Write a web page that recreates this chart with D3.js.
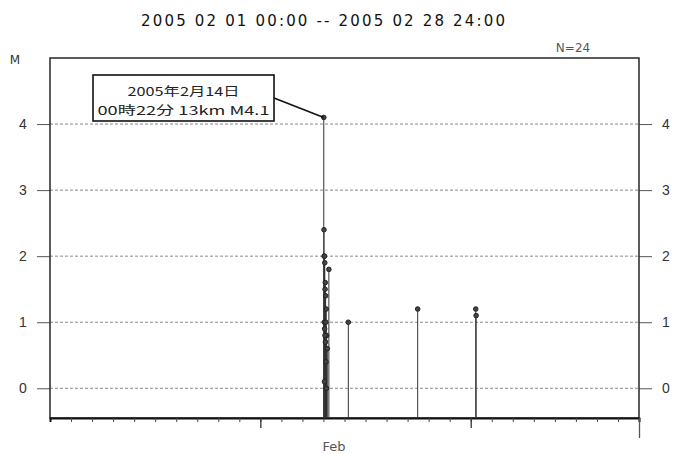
<!DOCTYPE html>
<html>
<head>
<meta charset="utf-8">
<script src="https://cdn.jsdelivr.net/npm/d3@7"></script>
<style>
  body { margin: 0; background: #fff; }
  svg { display: block; font-family: "DejaVu Sans", sans-serif; }
  .grid line { stroke: #888; stroke-dasharray: 3,2; stroke-width: 1; }
  .stem { stroke: #333; stroke-width: 1; }
  .dot { fill: #444; stroke: #222; stroke-width: 1; }
  .ylab { font-size: 14px; fill: #333; }
</style>
</head>
<body>
<svg id="chart"></svg>
<script>
// event times (UTC-like, no tz) and magnitudes, Feb 2005
let quakeTimes = [
  "2005-02-14T00:22", "2005-02-14T00:35", "2005-02-14T00:48", "2005-02-14T01:10",
  "2005-02-14T01:30", "2005-02-14T06:10", "2005-02-14T02:05", "2005-02-14T01:50",
  "2005-02-14T02:30", "2005-02-14T03:10", "2005-02-14T00:58", "2005-02-14T02:40",
  "2005-02-14T01:20", "2005-02-14T03:40", "2005-02-14T01:40", "2005-02-14T02:15",
  "2005-02-14T04:20", "2005-02-14T02:55", "2005-02-14T01:05", "2005-02-14T03:25",
  "2005-02-15T04:20", "2005-02-18T11:30", "2005-02-21T05:45", "2005-02-21T06:10"
]
let quakeMags = [
  4.1, 2.4, 2.0, 2.0,
  1.9, 1.8, 1.6, 1.5,
  1.4, 1.2, 1.0, 1.0,
  0.9, 0.8, 0.8, 0.7,
  0.6, 0.4, 0.1, 0.0,
  1.0, 1.2, 1.2, 1.1
]
let magTicks = [0, 1, 2, 3, 4]
let majorDays = ["2005-02-11", "2005-02-21"]
let monthLabel = "Feb"
let titleText = "2005 02 01 00:00 -- 2005 02 28 24:00"
let countText = "N=24"
let noteLines = ["2005年2月14日", "00時22分 13km  M4.1"]

function getConfig(){
    let width = 680, height = 454
    let margin = { top: 58, bottom: 36, left: 50, right: 41 }
    let svg = d3.select('#chart')
        .attr('width', width)
        .attr('height', height)
    return { width, height, margin, svg }
}

function getScales(config){
    let {width, height, margin} = config
    let parse = d3.utcParse("%Y-%m-%d")
    let xScale = d3.scaleUtc()
        .domain([parse("2005-02-01"), parse("2005-03-01")])
        .range([margin.left, width - margin.right])
    let yScale = d3.scaleLinear()
        .domain([-0.45, 5])
        .range([height - margin.bottom, margin.top])
    return { xScale, yScale }
}

function drawFrame(scales, config){
    let {svg, margin, width, height} = config
    let {xScale, yScale} = scales
    let x0 = margin.left, x1 = width - margin.right
    let y0 = margin.top, y1 = height - margin.bottom

    // dotted grid
    svg.append('g').attr('class', 'grid')
        .selectAll('line').data(magTicks).join('line')
        .attr('x1', x0).attr('x2', x1)
        .attr('y1', d => yScale(d)).attr('y2', d => yScale(d))

    // left axis
    let left = svg.append('g')
        .attr('transform', `translate(${x0},0)`)
        .call(d3.axisLeft(yScale).tickValues(magTicks).tickSize(13).tickPadding(14).tickFormat(d3.format('d')))
    left.select('.domain').remove()
    left.selectAll('line').attr('stroke', '#555')
    left.selectAll('text').attr('class', 'ylab').attr('text-anchor', 'middle')

    // right axis
    let right = svg.append('g')
        .attr('transform', `translate(${x1},0)`)
        .call(d3.axisRight(yScale).tickValues(magTicks).tickSize(13).tickPadding(14).tickFormat(d3.format('d')))
    right.select('.domain').remove()
    right.selectAll('line').attr('stroke', '#555')
    right.selectAll('text').attr('class', 'ylab').attr('text-anchor', 'middle')

    svg.append('rect')
        .attr('x', x0).attr('y', y0)
        .attr('width', x1 - x0).attr('height', y1 - y0)
        .attr('fill', 'none')
        .attr('stroke', '#333')
        .attr('stroke-width', 1.6)

    // bottom axis: day ticks, longer ones at 10 day marks and at the end
    let days = d3.utcDay.range(xScale.domain()[0], xScale.domain()[1])
    let bottom = svg.append('g')
        .attr('transform', `translate(0,${y1})`)
        .call(d3.axisBottom(xScale).tickValues(days.slice(1)).tickSize(4).tickFormat(''))
    bottom.select('.domain').attr('stroke', '#111').attr('stroke-width', 2)
    bottom.selectAll('.tick line').attr('stroke', '#444')

    let parse = d3.utcParse("%Y-%m-%d")
    svg.append('g')
        .attr('transform', `translate(0,${y1})`)
        .call(d3.axisBottom(xScale).tickValues(majorDays.map(parse)).tickSize(10).tickFormat(''))
        .call(g => g.select('.domain').remove())
        .selectAll('line').attr('stroke', '#333').attr('stroke-width', 1.3)
    svg.append('g')
        .attr('transform', `translate(0,${y1})`)
        .call(d3.axisBottom(xScale).tickValues([xScale.domain()[1]]).tickSize(20).tickFormat(''))
        .call(g => g.select('.domain').remove())
        .selectAll('line').attr('stroke', '#555').attr('stroke-width', 1.3)

    svg.append('text')
        .attr('x', xScale(d3.utcParse("%Y-%m-%dT%H:%M")("2005-02-14T12:00")))
        .attr('y', y1 + 33)
        .attr('text-anchor', 'middle')
        .attr('font-size', 13)
        .attr('fill', '#555')
        .text(monthLabel)

    svg.append('text')
        .attr('x', 15).attr('y', 64)
        .attr('text-anchor', 'middle')
        .attr('font-size', 12)
        .attr('fill', '#333')
        .text('M')

    svg.append('text')
        .attr('x', 323).attr('y', 26)
        .attr('text-anchor', 'middle')
        .attr('font-size', 15)
        .attr('textLength', 364)
        .attr('fill', '#111')
        .text(titleText)

    svg.append('text')
        .attr('x', 573).attr('y', 52)
        .attr('text-anchor', 'middle')
        .attr('font-size', 12)
        .attr('fill', '#555')
        .text(countText)
}

function drawQuakes(scales, config){
    let {svg, height, margin} = config
    let {xScale, yScale} = scales
    let parseT = d3.utcParse("%Y-%m-%dT%H:%M")
    let data = quakeTimes.map((t, i) => ({ date: parseT(t), mag: quakeMags[i] }))
    let base = height - margin.bottom

    svg.append('g').selectAll('line').data(data).join('line')
        .attr('class', 'stem')
        .attr('x1', d => xScale(d.date)).attr('x2', d => xScale(d.date))
        .attr('y1', base).attr('y2', d => yScale(d.mag))

    svg.append('g').selectAll('circle').data(data).join('circle')
        .attr('class', 'dot')
        .attr('cx', d => xScale(d.date))
        .attr('cy', d => yScale(d.mag))
        .attr('r', 2.3)

    // callout for the largest event
    let top = data[d3.maxIndex(data, d => d.mag)]
    let note = svg.append('g')
    note.append('rect')
        .attr('x', 93).attr('y', 75)
        .attr('width', 181).attr('height', 46)
        .attr('fill', '#fff')
        .attr('stroke', '#111')
        .attr('stroke-width', 1.6)
    note.append('line')
        .attr('x1', 274).attr('y1', 98)
        .attr('x2', xScale(top.date)).attr('y2', yScale(top.mag))
        .attr('stroke', '#111').attr('stroke-width', 1.6)
    note.selectAll('text').data(noteLines).join('text')
        .attr('x', 183.5)
        .attr('y', (d, i) => 96 + i * 19)
        .attr('text-anchor', 'middle')
        .attr('font-family', '"Noto Sans CJK JP", sans-serif')
        .attr('font-size', 12)
        .attr('fill', '#222')
        .attr('textLength', (d, i) => i == 0 ? 112 : 172)
        .attr('lengthAdjust', 'spacingAndGlyphs')
        .text(d => d)
}

let config = getConfig()
let scales = getScales(config)
drawFrame(scales, config)
drawQuakes(scales, config)
</script>
</body>
</html>
